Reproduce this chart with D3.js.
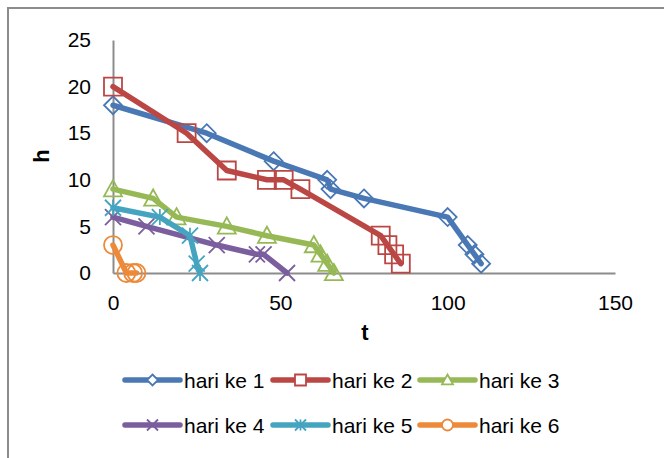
<!DOCTYPE html>
<html>
<head>
<meta charset="utf-8">
<script src="https://cdnjs.cloudflare.com/ajax/libs/d3/7.8.5/d3.min.js"></script>
<style>
  body { margin: 0; background: #fff; }
  text { font-family: "Liberation Sans", Arial, sans-serif; }
</style>
</head>
<body>
<div class="svg-container"></div>
<script>
var w = 664, h = 458;

// data: [t, h]
const hari1 = [[0,18],[28,15],[48,12],[64,10],[65,9],[75,8],[100,6],[106,3],[108,2],[110,1]];
const hari2 = [[0,20],[22,15],[34,11],[46,10],[51,10],[56,9],[80,4],[82,3],[84,2],[86,1]];
const hari3 = [[0,9],[12,8],[19,6],[34,5],[46,4],[60,3],[62,2],[64,1],[66,0]];
const hari4 = [[0,6],[10,5],[31,3],[43,2],[45,2],[52,0]];
const hari5 = [[0,7],[14,6],[23,4],[25,1],[26,0]];
const hari6 = [[0,3],[4,0],[6,0],[7,0]];

const seriesNames = ["hari ke 1","hari ke 2","hari ke 3","hari ke 4","hari ke 5","hari ke 6"];
const seriesData = [hari1, hari2, hari3, hari4, hari5, hari6];
const colors = ["#4A78B4","#BB4744","#96B955","#7B5E9E","#45A5C0","#EC8A3A"];
const markers = ["diamond","square","triangle","x","star","circle"];

const xTicks = [0, 50, 100, 150];
const yTicks = [0, 5, 10, 15, 20, 25];

// marker path around 0,0
function markerPath(type, r) {
  switch (type) {
    case "diamond": return "M0," + (-r) + "L" + r + ",0L0," + r + "L" + (-r) + ",0Z";
    case "square": return "M" + (-r) + "," + (-r) + "H" + r + "V" + r + "H" + (-r) + "Z";
    case "triangle": return "M0," + (-r) + "L" + r + "," + (r * 0.8) + "L" + (-r) + "," + (r * 0.8) + "Z";
    case "x": return "M" + (-r) + "," + (-r) + "L" + r + "," + r + "M" + r + "," + (-r) + "L" + (-r) + "," + r;
    case "star": return "M" + (-r) + "," + (-r) + "L" + r + "," + r + "M" + r + "," + (-r) + "L" + (-r) + "," + r + "M0," + (-r) + "V" + r;
    case "circle": return "M" + r + ",0A" + r + "," + r + " 0 1,1 " + (-r) + ",0A" + r + "," + r + " 0 1,1 " + r + ",0Z";
  }
}

const svg = d3.select(".svg-container")
              .append("svg")
              .attr("width", w)
              .attr("height", h);

// chart border (runs off right and bottom)
svg.append("rect")
   .attr("x", 8).attr("y", 8)
   .attr("width", w + 20).attr("height", h + 20)
   .attr("fill", "#fff")
   .attr("stroke", "#8c8c8c")
   .attr("stroke-width", 2);

const xScale = d3.scaleLinear().domain([0, 150]).range([113, 615]);
const yScale = d3.scaleLinear().domain([0, 25]).range([273, 40]);

const xAxis = d3.axisBottom(xScale).tickValues(xTicks).tickSize(0).tickPadding(22);
const yAxis = d3.axisLeft(yScale).tickValues(yTicks).tickSize(0).tickPadding(22);

const gx = svg.append("g")
   .attr("transform", "translate(0," + yScale(0) + ")")
   .call(xAxis);
const gy = svg.append("g")
   .attr("transform", "translate(" + xScale(0) + ",0)")
   .call(yAxis);

[gx, gy].forEach(function(g) {
  g.select(".domain").attr("stroke", "#8c8c8c").attr("stroke-width", 2);
  g.selectAll("text").attr("font-size", 21).attr("fill", "#000")
   .style("font-family", "'Liberation Sans', Arial, sans-serif");
});

// axis titles
svg.append("text")
   .attr("x", 365).attr("y", 340)
   .attr("text-anchor", "middle")
   .attr("font-size", 22).attr("font-weight", "bold")
   .text("t");
svg.append("text")
   .attr("transform", "translate(49,156) rotate(-90)")
   .attr("text-anchor", "middle")
   .attr("font-size", 22).attr("font-weight", "bold")
   .text("h");

const line = d3.line().x(d => xScale(d[0])).y(d => yScale(d[1]));

seriesData.forEach(function(data, i) {
  svg.append("path")
     .datum(data)
     .attr("d", line)
     .attr("fill", "none")
     .attr("stroke", colors[i])
     .attr("stroke-width", 5.5)
     .attr("stroke-linejoin", "round")
     .attr("stroke-linecap", "round");

  const r = markers[i] === "x" || markers[i] === "star" ? 8 : 9;
  svg.selectAll(".m" + i)
     .data(data)
     .enter()
     .append("path")
     .attr("class", "m" + i)
     .attr("transform", d => "translate(" + xScale(d[0]) + "," + yScale(d[1]) + ")")
     .attr("d", markerPath(markers[i], r))
     .attr("fill", "none")
     .attr("stroke", colors[i])
     .attr("stroke-width", 1.8);
});

// legend
const legendX = [125, 273, 420];
const legendY = [380, 425];
seriesNames.forEach(function(name, i) {
  const lx = legendX[i % 3], ly = legendY[Math.floor(i / 3)];
  const g = svg.append("g").attr("transform", "translate(" + lx + "," + ly + ")");
  g.append("line")
   .attr("x1", 0).attr("x2", 55).attr("y1", 0).attr("y2", 0)
   .attr("stroke", colors[i]).attr("stroke-width", 5.5)
   .attr("stroke-linecap", "round");
  g.append("path")
   .attr("transform", "translate(27.5,0)")
   .attr("d", markerPath(markers[i], 5.5))
   .attr("fill", markers[i] === "x" || markers[i] === "star" ? "none" : "#fff")
   .attr("stroke", colors[i]).attr("stroke-width", 1.8);
  g.append("text")
   .attr("x", 59).attr("y", 0)
   .attr("dy", "0.36em")
   .attr("font-size", 21)
   .text(name);
});
</script>
</body>
</html>
